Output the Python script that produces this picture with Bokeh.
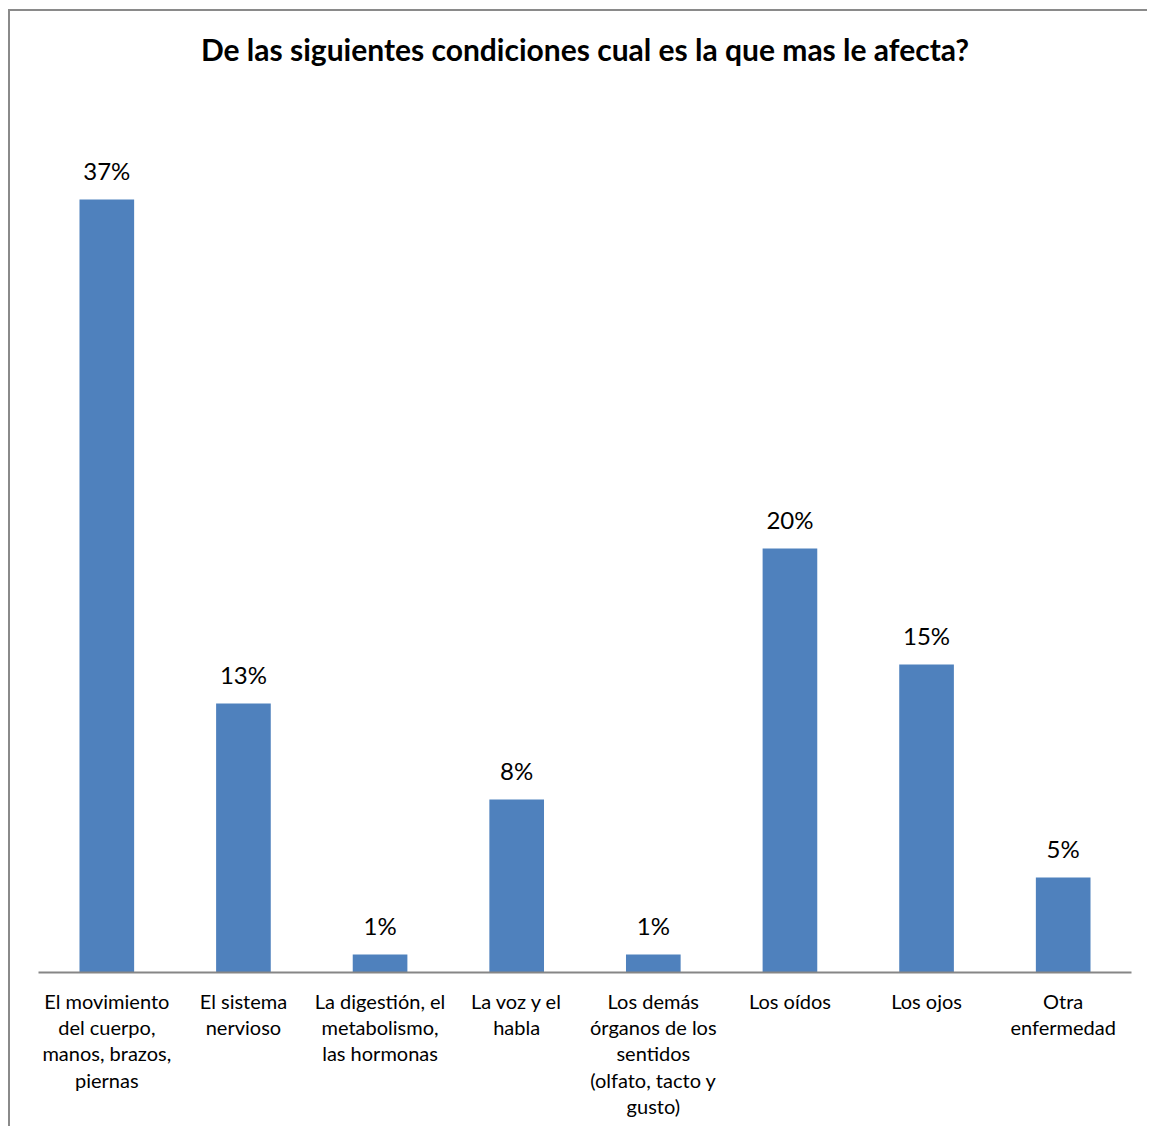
from bokeh.plotting import figure
from bokeh.models import FactorRange, Range1d, ColumnDataSource, Title
from bokeh.core.properties import value
from bokeh.embed import file_html
from bokeh.resources import INLINE

categories = [
    "El movimiento\ndel cuerpo,\nmanos, brazos,\npiernas",
    "El sistema\nnervioso",
    "La digestión, el\nmetabolismo,\nlas hormonas",
    "La voz y el\nhabla",
    "Los demás\nórganos de los\nsentidos\n(olfato, tacto y\ngusto)",
    "Los oídos",
    "Los ojos",
    "Otra\nenfermedad",
]
values = [36.99, 12.87, 0.86, 8.28, 0.86, 20.29, 14.74, 4.55]
labels = ["37%", "13%", "1%", "8%", "1%", "20%", "15%", "5%"]
title_text = "De las siguientes condiciones cual es la que mas le afecta?"

FONT = "Lato"

src = ColumnDataSource(dict(cat=categories, val=values, lab=labels))

p = figure(
    width=1139, height=1117,
    x_range=FactorRange(*categories, range_padding=0),
    y_range=Range1d(0, 40),
    output_backend="svg", toolbar_location=None,
    min_border_left=28, min_border_right=18,
    min_border_top=125, min_border_bottom=156,
)
p.styles = {
    "border-left": "2px solid #8a8a8a",
    "border-top": "2px solid #8a8a8a",
    "margin-left": "8px",
    "margin-top": "9px",
}

# empty spacer between the plot area and the title
p.add_layout(Title(text=" ", text_font_size="1px", standoff=67), "above")
p.add_layout(Title(text=title_text, align="center", text_font=FONT,
                   text_font_style="bold", text_font_size="30px",
                   text_color="black", standoff=0), "above")

p.vbar(x="cat", top="val", width=0.4, source=src, fill_color="#4F81BD", line_color=None)
p.text(x="cat", y="val", text="lab", source=src, text_align="center",
       text_baseline="middle", y_offset=-29, text_font=value(FONT),
       text_font_size="24px", text_color="black")

p.xgrid.visible = False
p.ygrid.visible = False
p.yaxis.visible = False
p.outline_line_color = None

ax = p.xaxis[0]
ax.axis_line_color = "#868686"
ax.axis_line_width = 2
ax.major_tick_line_color = None
ax.minor_tick_line_color = None
ax.major_label_text_font = FONT
ax.major_label_text_font_size = "20px"
ax.major_label_text_color = "black"
ax.major_label_text_line_height = 1.1
ax.major_label_standoff = 10
ax.major_label_orientation = "horizontal"

open("out.html", "w").write(file_html(p, INLINE))
